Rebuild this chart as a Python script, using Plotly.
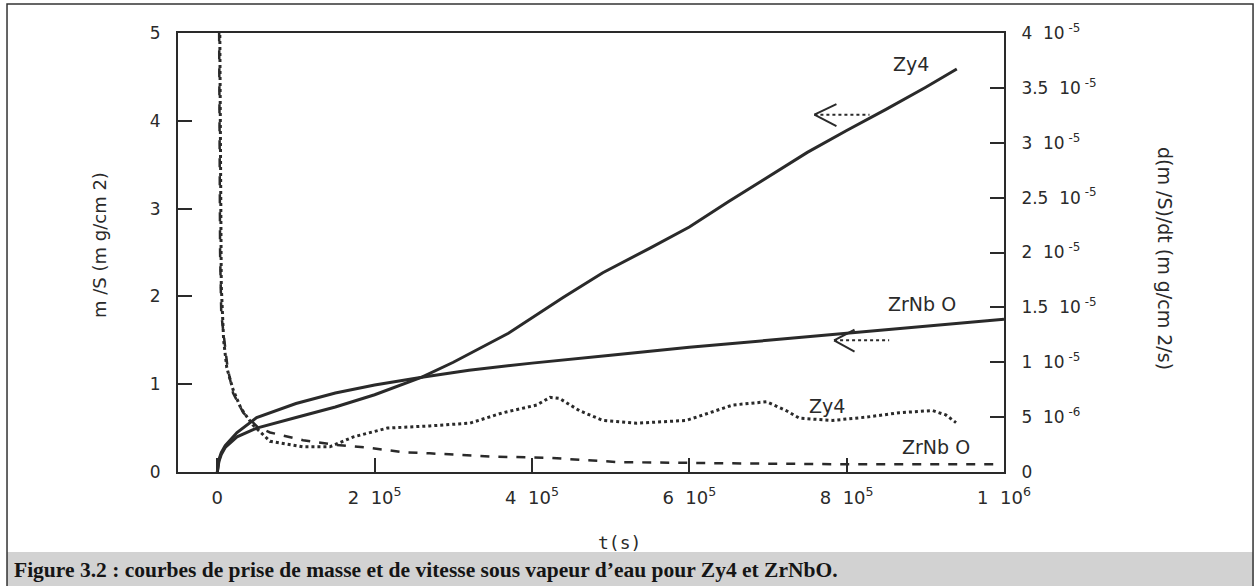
import plotly.graph_objects as go

# ---- data (time in units of 1e5 s) ----
t_zy4_mass = [0, 0.02, 0.05, 0.1, 0.25, 0.5, 1.0, 1.5, 2.0, 2.6, 3.0, 3.7, 4.4, 4.9, 5.5, 6.0, 6.5, 7.0, 7.5, 8.0, 8.5, 9.0, 9.4]
m_zy4 = [0, 0.12, 0.2, 0.28, 0.40, 0.50, 0.62, 0.74, 0.88, 1.08, 1.25, 1.58, 1.99, 2.27, 2.55, 2.79, 3.08, 3.36, 3.64, 3.89, 4.13, 4.38, 4.59]

t_zrnbo_mass = [0, 0.02, 0.05, 0.1, 0.25, 0.5, 1.0, 1.5, 2.0, 2.6, 3.2, 4.0, 5.0, 6.0, 7.0, 8.0, 9.0, 10.0]
m_zrnbo = [0, 0.14, 0.22, 0.30, 0.45, 0.62, 0.78, 0.90, 0.99, 1.08, 1.16, 1.24, 1.33, 1.42, 1.50, 1.58, 1.66, 1.74]

# rates in units of 1e-6 mg/cm2/s
t_zy4_rate = [0.03, 0.05, 0.08, 0.12, 0.2, 0.3, 0.45, 0.67, 1.09, 1.43, 1.73, 2.16, 2.7, 3.21, 3.63, 4.06, 4.23, 4.35, 4.6, 4.9, 5.33, 5.96, 6.26, 6.55, 6.98, 7.23, 7.4, 7.82, 8.25, 8.67, 9.09, 9.26, 9.39]
v_zy4_rate = [42, 17, 12, 9.5, 7.5, 5.8, 4.3, 2.8, 2.3, 2.3, 3.2, 4.0, 4.2, 4.45, 5.4, 6.1, 6.8, 6.7, 5.6, 4.7, 4.45, 4.7, 5.4, 6.1, 6.4, 5.6, 4.9, 4.7, 5.0, 5.4, 5.6, 5.2, 4.5]

t_zrnbo_rate = [0.02, 0.035, 0.05, 0.076, 0.13, 0.2, 0.33, 0.51, 0.67, 1.09, 1.52, 1.94, 2.36, 2.7, 3.5, 4.2, 5.1, 6.4, 8.0, 9.9]
v_zrnbo_rate = [45, 20, 14.4, 12.6, 9.5, 7.2, 5.4, 4.1, 3.6, 2.9, 2.45, 2.2, 1.8, 1.7, 1.4, 1.3, 0.9, 0.8, 0.7, 0.7]

NB = "\u00a0"
x_tickvals = [0, 2e5, 4e5, 6e5, 8e5, 1e6]
x_ticktext = ["0"] + [f"{d}{NB}{NB}10<sup>{e}</sup>" for d, e in [("2", "5"), ("4", "5"), ("6", "5"), ("8", "5"), ("1", "6")]]
y1_tickvals = [0, 1, 2, 3, 4, 5]
y1_ticktext = ["0", "1", "2", "3", "4", "5"]
y2_tickvals = [0, 5e-6, 1e-5, 1.5e-5, 2e-5, 2.5e-5, 3e-5, 3.5e-5, 4e-5]
y2_ticktext = ["0"] + [f"{d}{NB}{NB}10<sup>{NB}{e}</sup>" for d, e in
                       [("5", "-6"), ("1", "-5"), ("1.5", "-5"), ("2", "-5"), ("2.5", "-5"),
                        ("3", "-5"), ("3.5", "-5"), ("4", "-5")]]

# arrows (data coords: t in 1e5 s, m in mg/cm2): tip, tail, arm end points
arrow_zy4 = dict(tip=(7.59, 4.07), tail=(8.29, 4.07), arm_t=7.87, arm_m=(4.19, 3.94))
arrow_zrnbo = dict(tip=(7.84, 1.50), tail=(8.54, 1.50), arm_t=8.10, arm_m=(1.62, 1.37))

S = 1e5
INK = "#2a2a2a"
FONT = "DejaVu Sans, Verdana, sans-serif"

fig = go.Figure()
fig.add_trace(go.Scatter(x=[t * S for t in t_zy4_mass], y=m_zy4, mode="lines",
                         line=dict(color=INK, width=3), showlegend=False))
fig.add_trace(go.Scatter(x=[t * S for t in t_zrnbo_mass], y=m_zrnbo, mode="lines",
                         line=dict(color=INK, width=3), showlegend=False))
fig.add_trace(go.Scatter(x=[t * S for t in t_zy4_rate], y=[v * 1e-6 for v in v_zy4_rate], mode="lines",
                         line=dict(color=INK, width=3, dash="dot"), yaxis="y2", showlegend=False))
fig.add_trace(go.Scatter(x=[t * S for t in t_zrnbo_rate], y=[v * 1e-6 for v in v_zrnbo_rate], mode="lines",
                         line=dict(color=INK, width=2.5, dash="dash"), yaxis="y2", showlegend=False))

shapes = []
for a in (arrow_zy4, arrow_zrnbo):
    (tt, tm), (lt, lm) = a["tip"], a["tail"]
    shapes.append(dict(type="line", xref="x", yref="y", x0=tt * S, y0=tm, x1=lt * S, y1=lm,
                       line=dict(color=INK, width=2, dash="dot")))
    for am in a["arm_m"]:
        shapes.append(dict(type="line", xref="x", yref="y", x0=tt * S, y0=tm, x1=a["arm_t"] * S, y1=am,
                           line=dict(color=INK, width=2)))

# outer page frame and caption band
shapes.append(dict(type="rect", xref="paper", yref="paper", x0=-0.207, x1=1.3015, y0=-0.182, y1=-0.32,
                   line=dict(width=0), fillcolor="#d2d2d2", layer="below"))
shapes.append(dict(type="rect", xref="paper", yref="paper", x0=-0.207, x1=1.3015, y0=-0.32, y1=1.066,
                   line=dict(color="#333333", width=1.5), fillcolor="rgba(0,0,0,0)"))

def lab(x, y, text, size=19, family=FONT, **kw):
    d = dict(x=x, y=y, text=text, showarrow=False, xanchor="center", yanchor="middle",
             font=dict(family=family, size=size, color=INK))
    d.update(kw)
    return d

annotations = [
    lab(8.82 * S, (472 - 64) / 87.8, "Zy4"),
    lab(8.96 * S, (472 - 304) / 87.8, "ZrNb O"),
    lab(7.75 * S, (472 - 406) / 87.8, "Zy4"),
    lab(9.14 * S, (472 - 447) / 87.8, "ZrNb O"),
    lab((100 - 178) / 826, (472 - 245) / 439, "m /S (m g/cm 2)", size=18,
        xref="paper", yref="paper", textangle=-90),
    lab((1165 - 178) / 826, (472 - 258) / 439, "d(m /S)/dt (m g/cm 2/s)", size=19,
        xref="paper", yref="paper", textangle=90),
    lab((619 - 178) / 826, (472 - 542) / 439, "t(s)", size=18, family="DejaVu Sans Mono, monospace",
        xref="paper", yref="paper"),
    lab((12 - 178) / 826, (472 - 570) / 439,
        "<b>Figure 3.2 : courbes de prise de masse et de vitesse sous vapeur d’eau pour Zy4 et ZrNbO.</b>",
        size=21.5, family="Liberation Serif, serif", xref="paper", yref="paper", xanchor="left"),
]
annotations[-1]["font"]["color"] = "#151515"

axis_common = dict(showgrid=False, zeroline=False, showline=True, linecolor=INK, linewidth=2,
                   ticks="inside", ticklen=14, tickwidth=2, tickcolor=INK)

fig.update_layout(
    width=1258, height=586,
    margin=dict(l=178, r=254, t=33, b=114),
    paper_bgcolor="white", plot_bgcolor="white",
    xaxis=dict(range=[-0.5e5, 1e6], tickmode="array", tickvals=x_tickvals, ticktext=x_ticktext,
               mirror=True, ticklabelstandoff=8, tickfont=dict(family=FONT, size=18, color=INK), **axis_common),
    yaxis=dict(range=[0, 5], tickmode="array", tickvals=y1_tickvals, ticktext=y1_ticktext,
               ticklabelstandoff=12, tickfont=dict(family=FONT, size=17, color=INK), **axis_common),
    yaxis2=dict(range=[0, 4e-5], overlaying="y", side="right", tickmode="array",
                tickvals=y2_tickvals, ticktext=y2_ticktext, ticklabelstandoff=12,
                tickfont=dict(family=FONT, size=17, color=INK), **axis_common),
    shapes=shapes, annotations=annotations, showlegend=False,
)

fig.write_html("out.html", config={"displayModeBar": False},
               post_script="document.body.style.margin='0';document.body.style.overflow='hidden';")
